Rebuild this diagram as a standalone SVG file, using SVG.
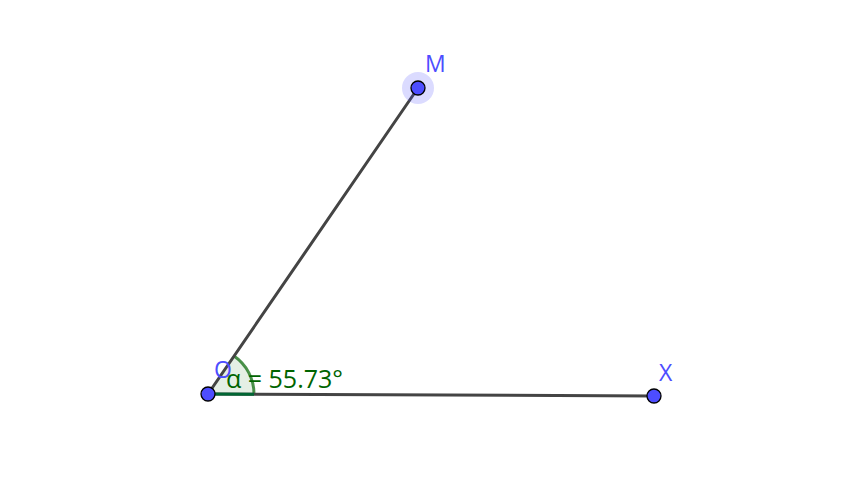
<svg xmlns="http://www.w3.org/2000/svg" width="849" height="487" viewBox="0 0 849 487">
<style>
.seg{stroke:#444;stroke-width:3;stroke-linecap:round}
.pt{fill:#4d4dff;stroke:#000;stroke-width:1.3}
.lbl{fill:#4d4dff;font-family:"Open Sans","DejaVu Sans",sans-serif;font-size:23px}
.ang{fill:#006400;font-family:"Open Sans","DejaVu Sans",sans-serif;font-size:25px}
</style>
<rect width="849" height="487" fill="#fff"/>
<g id="angle">
<path d="M208 394 L254 394.2 A46 46 0 0 0 234 356 Z" fill="#006400" fill-opacity="0.1" stroke="none"/>
<path d="M254 394.2 A46 46 0 0 0 234 356" fill="none" stroke="#006400" stroke-opacity="0.7" stroke-width="3"/>
</g>
<g id="connectors">
<line class="seg" x1="208" y1="394" x2="418" y2="88"/>
<line class="seg" x1="208" y1="394" x2="654" y2="396"/>
</g>
<g id="angle-edge"><line x1="208" y1="394" x2="254" y2="394.2" stroke="#063" stroke-width="3"/></g>
<g id="O">
<circle class="pt" cx="208" cy="394" r="7"/>
<text class="lbl" x="214" y="378" font-size="22">O</text>
</g>
<g id="M">
<circle cx="418" cy="88" r="16" fill="#4d4dff" fill-opacity="0.2"/>
<circle class="pt" cx="418" cy="88" r="7"/>
<text class="lbl" x="425" y="72">M</text>
</g>
<g id="X">
<circle class="pt" cx="654" cy="396" r="7"/>
<text class="lbl" x="659" y="381">X</text>
</g>
<text class="ang" x="226" y="388">α = 55.73°</text>
</svg>
